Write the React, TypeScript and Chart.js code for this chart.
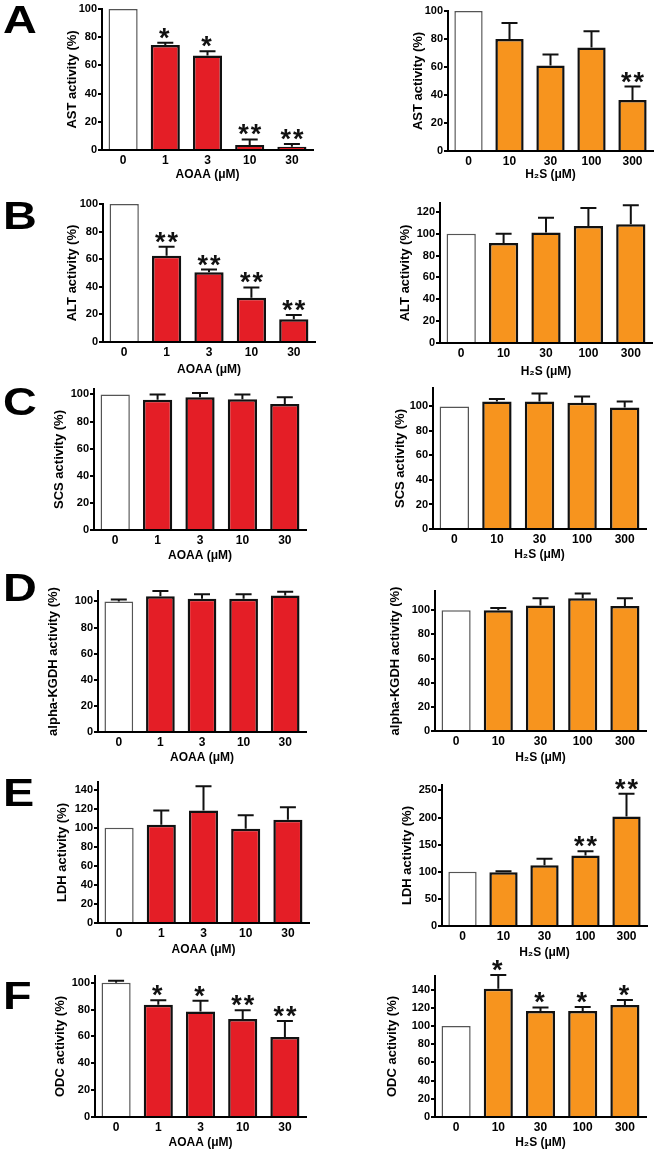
import React, { useEffect, useRef } from 'react';
import { Chart, registerables } from 'chart.js';

Chart.register(...registerables);

const FONT = "'Liberation Sans', Arial, Helvetica, sans-serif";

// ---------- data ----------
const aoaaDoses = ['0', '1', '3', '10', '30'];
const h2sDoses = ['0', '10', '30', '100', '300'];

const astAoaa = [100, 74.5, 67, 3.5, 2.3];
const astAoaaErr = [0, 1.5, 3, 4, 2];
const astAoaaSig = ['', '*', '*', '**', '**'];
const astH2s = [100, 80, 61, 74, 36.5];
const astH2sErr = [0, 11.5, 8, 11.5, 9.5];
const astH2sSig = ['', '', '', '', '**'];

const altAoaa = [100, 62.5, 50.5, 32, 16.5];
const altAoaaErr = [0, 6.5, 2, 7.5, 3];
const altAoaaSig = ['', '**', '**', '**', '**'];
const altH2s = [100, 91.5, 101, 107, 108.5];
const altH2sErr = [0, 8.5, 13.5, 16.5, 17.5];
const altH2sSig = ['', '', '', '', ''];

const scsAoaa = [100, 96, 98, 96.5, 93];
const scsAoaaErr = [0, 4, 3, 3.5, 5];
const scsAoaaSig = ['', '', '', '', ''];
const scsH2s = [100, 104, 104, 103, 99];
const scsH2sErr = [0, 2, 6.5, 5, 5];
const scsH2sSig = ['', '', '', '', ''];

const kgdhAoaa = [100, 104, 102, 102, 104.5];
const kgdhAoaaErr = [1.5, 4, 3.5, 3.5, 3];
const kgdhAoaaSig = ['', '', '', '', ''];
const kgdhH2s = [100, 100, 104, 110, 103.5];
const kgdhH2sErr = [0, 2, 6, 4, 6.5];
const kgdhH2sSig = ['', '', '', '', ''];

const ldhAoaa = [100, 103, 118, 99, 108.5];
const ldhAoaaErr = [0, 15, 25.5, 14, 13];
const ldhAoaaSig = ['', '', '', '', ''];
const ldhH2s = [100, 99, 112, 130, 202];
const ldhH2sErr = [0, 2, 12, 8, 42];
const ldhH2sSig = ['', '', '', '**', '**'];

const odcAoaa = [100, 83.5, 78.5, 73, 59.5];
const odcAoaaErr = [1.5, 3.5, 8, 6.5, 12];
const odcAoaaSig = ['', '*', '*', '**', '**'];
const odcH2s = [100, 141, 116.5, 116.5, 123];
const odcH2sErr = [0, 15, 4, 4.5, 5.5];
const odcH2sSig = ['', '*', '*', '*', '*'];

const RED = '#E41E26';
const ORANGE = '#F7941E';

type Box = { axisX: number; topY: number; zeroY: number; endX: number; yTitleX: number; xTitleY: number; rowTop: number; col: number };

type PanelCfg = {
  labels: string[];
  values: number[];
  errors: number[];
  sig: string[];
  color: string;
  yTitle: string;
  xTitle: string;
  yMax: number;
  yStep: number;
  box: Box;
};

const panels: PanelCfg[] = [
  { labels: aoaaDoses, values: astAoaa, errors: astAoaaErr, sig: astAoaaSig, color: RED, yTitle: 'AST activity (%)', xTitle: 'AOAA (μM)', yMax: 100, yStep: 20,
    box: { axisX: 102, topY: 9, zeroY: 150, endX: 313, yTitleX: 72, xTitleY: 175, rowTop: 0, col: 0 } },
  { labels: h2sDoses, values: astH2s, errors: astH2sErr, sig: astH2sSig, color: ORANGE, yTitle: 'AST activity (%)', xTitle: 'H₂S (μM)', yMax: 100, yStep: 20,
    box: { axisX: 448, topY: 11, zeroY: 151, endX: 653, yTitleX: 418, xTitleY: 175, rowTop: 0, col: 1 } },
  { labels: aoaaDoses, values: altAoaa, errors: altAoaaErr, sig: altAoaaSig, color: RED, yTitle: 'ALT activity (%)', xTitle: 'AOAA (μM)', yMax: 100, yStep: 20,
    box: { axisX: 103, topY: 204, zeroY: 342, endX: 315, yTitleX: 72, xTitleY: 370, rowTop: 190, col: 0 } },
  { labels: h2sDoses, values: altH2s, errors: altH2sErr, sig: altH2sSig, color: ORANGE, yTitle: 'ALT activity (%)', xTitle: 'H₂S (μM)', yMax: 128, yStep: 20,
    box: { axisX: 440, topY: 203, zeroY: 343, endX: 652, yTitleX: 405, xTitleY: 372, rowTop: 190, col: 1 } },
  { labels: aoaaDoses, values: scsAoaa, errors: scsAoaaErr, sig: scsAoaaSig, color: RED, yTitle: 'SCS activity (%)', xTitle: 'AOAA (μM)', yMax: 104, yStep: 20,
    box: { axisX: 94, topY: 389, zeroY: 530, endX: 306, yTitleX: 59, xTitleY: 556, rowTop: 380, col: 0 } },
  { labels: h2sDoses, values: scsH2s, errors: scsH2sErr, sig: scsH2sSig, color: ORANGE, yTitle: 'SCS activity (%)', xTitle: 'H₂S (μM)', yMax: 115, yStep: 20,
    box: { axisX: 433, topY: 388, zeroY: 529, endX: 646, yTitleX: 400, xTitleY: 555, rowTop: 380, col: 1 } },
  { labels: aoaaDoses, values: kgdhAoaa, errors: kgdhAoaaErr, sig: kgdhAoaaSig, color: RED, yTitle: 'alpha-KGDH activity (%)', xTitle: 'AOAA (μM)', yMax: 108, yStep: 20,
    box: { axisX: 98, topY: 591, zeroY: 732, endX: 306, yTitleX: 53, xTitleY: 758, rowTop: 570, col: 0 } },
  { labels: h2sDoses, values: kgdhH2s, errors: kgdhH2sErr, sig: kgdhH2sSig, color: ORANGE, yTitle: 'alpha-KGDH activity (%)', xTitle: 'H₂S (μM)', yMax: 116, yStep: 20,
    box: { axisX: 435, topY: 591, zeroY: 731, endX: 646, yTitleX: 395, xTitleY: 758, rowTop: 570, col: 1 } },
  { labels: aoaaDoses, values: ldhAoaa, errors: ldhAoaaErr, sig: ldhAoaaSig, color: RED, yTitle: 'LDH activity (%)', xTitle: 'AOAA (μM)', yMax: 148, yStep: 20,
    box: { axisX: 98, topY: 782, zeroY: 923, endX: 309, yTitleX: 62, xTitleY: 950, rowTop: 760, col: 0 } },
  { labels: h2sDoses, values: ldhH2s, errors: ldhH2sErr, sig: ldhH2sSig, color: ORANGE, yTitle: 'LDH activity (%)', xTitle: 'H₂S (μM)', yMax: 260, yStep: 50,
    box: { axisX: 442, topY: 785, zeroY: 926, endX: 647, yTitleX: 407, xTitleY: 953, rowTop: 760, col: 1 } },
  { labels: aoaaDoses, values: odcAoaa, errors: odcAoaaErr, sig: odcAoaaSig, color: RED, yTitle: 'ODC activity (%)', xTitle: 'AOAA (μM)', yMax: 105, yStep: 20,
    box: { axisX: 95, topY: 976, zeroY: 1117, endX: 306, yTitleX: 60, xTitleY: 1143, rowTop: 950, col: 0 } },
  { labels: h2sDoses, values: odcH2s, errors: odcH2sErr, sig: odcH2sSig, color: ORANGE, yTitle: 'ODC activity (%)', xTitle: 'H₂S (μM)', yMax: 155, yStep: 20,
    box: { axisX: 435, topY: 976, zeroY: 1117, endX: 646, yTitleX: 392, xTitleY: 1143, rowTop: 950, col: 1 } },
];

const panelLetters = [
  { text: 'A', top: 5 },
  { text: 'B', top: 201 },
  { text: 'C', top: 387 },
  { text: 'D', top: 573 },
  { text: 'E', top: 778 },
  { text: 'F', top: 981 },
];

const CANVAS_H = 200;
const COL_X = [0, 330];
const COL_W = [330, 331];

function Panel({ cfg }: { cfg: PanelCfg }) {
  const ref = useRef<HTMLCanvasElement | null>(null);
  const b = cfg.box;
  const colX = COL_X[b.col];
  const colW = COL_W[b.col];

  useEffect(() => {
    if (!ref.current) return;
    const yLine = 13 * 1.2;
    const xLine = 12 * 1.2;
    const xTitlePad = Math.max(0, CANVAS_H - (b.xTitleY - b.rowTop) - xLine / 2);
    const errPlugin = {
      id: 'errbars',
      afterDatasetsDraw(chart: any) {
        const ctx = chart.ctx;
        const meta = chart.getDatasetMeta(0);
        const yScale = chart.scales.y;
        ctx.save();
        meta.data.forEach((el: any, i: number) => {
          const v = cfg.values[i];
          const e = cfg.errors[i];
          const x = el.x;
          const yBar = yScale.getPixelForValue(v);
          const yTop = yScale.getPixelForValue(v + e);
          if (e > 0) {
            ctx.strokeStyle = '#111';
            ctx.lineWidth = 2;
            ctx.beginPath();
            ctx.moveTo(x, yBar);
            ctx.lineTo(x, yTop);
            ctx.moveTo(x - 8, yTop);
            ctx.lineTo(x + 8, yTop);
            ctx.stroke();
          }
          const s = cfg.sig[i];
          if (s) {
            ctx.fillStyle = '#111';
            ctx.font = `bold 27px ${FONT}`;
            ctx.textAlign = 'center';
            ctx.textBaseline = 'alphabetic';
            (ctx as any).letterSpacing = '2px';
            ctx.fillText(s, x + (s.length > 1 ? 1 : 0), yTop + 4);
            (ctx as any).letterSpacing = '0px';
          }
        });
        ctx.restore();
      },
    };

    const chart = new Chart(ref.current, {
      type: 'bar',
      data: {
        labels: cfg.labels,
        datasets: [
          {
            data: cfg.values,
            backgroundColor: cfg.values.map((_, i) => (i === 0 ? '#ffffff' : cfg.color)),
            borderColor: cfg.values.map((_, i) => (i === 0 ? '#555555' : '#111111')),
            borderWidth: cfg.values.map((_, i) => (i === 0 ? 1.5 : 2.5)) as any,
            barPercentage: 0.69,
            categoryPercentage: 1,
          },
        ],
      },
      options: {
        responsive: false,
        animation: false,
        events: [],
        layout: {
          padding: { left: 0, top: b.topY - b.rowTop, right: colX + colW - b.endX, bottom: 0 },
        },
        plugins: { legend: { display: false }, tooltip: { enabled: false } },
        scales: {
          x: {
            grid: { display: false, drawTicks: false },
            border: { display: true, color: '#000', width: 2 },
            ticks: { color: '#000', font: { size: 12, weight: 'bold', family: FONT }, padding: 3 },
            title: {
              display: true,
              text: cfg.xTitle,
              color: '#000',
              font: { size: 12, weight: 'bold', family: FONT },
              padding: { top: 0, bottom: xTitlePad },
            },
            afterFit: (s: any) => {
              s.height = CANVAS_H - (b.zeroY - b.rowTop);
            },
          },
          y: {
            min: 0,
            max: cfg.yMax,
            ticks: {
              stepSize: cfg.yStep,
              includeBounds: false,
              color: '#000',
              font: { size: 11, weight: 'bold', family: FONT },
              padding: 1,
            },
            grid: { display: true, drawOnChartArea: false, drawTicks: true, tickLength: 4, color: '#000', lineWidth: 2 },
            border: { display: true, color: '#000', width: 2 },
            title: {
              display: true,
              text: cfg.yTitle,
              color: '#000',
              font: { size: 13, weight: 'bold', family: FONT },
              padding: { top: b.yTitleX - colX - yLine / 2, bottom: 0 },
            },
            afterFit: (s: any) => {
              s.width = b.axisX - colX;
            },
          },
        },
      } as any,
      plugins: [errPlugin],
    });
    return () => chart.destroy();
  }, [cfg]);

  return (
    <canvas
      ref={ref}
      width={colW}
      height={CANVAS_H}
      style={{ position: 'absolute', left: colX, top: b.rowTop, width: colW, height: CANVAS_H }}
    />
  );
}

export default function App() {
  return (
    <div style={{ position: 'absolute', left: 0, top: 0, width: 661, height: 1150, background: '#fff', overflow: 'hidden' }}>
      {panels.map((p, i) => (
        <Panel key={i} cfg={p} />
      ))}
      {panelLetters.map((l) => (
        <div
          key={l.text}
          style={{
            position: 'absolute',
            left: 3,
            top: l.top - 5,
            fontFamily: FONT,
            fontWeight: 'bold',
            fontSize: 39,
            lineHeight: 1,
            color: '#000',
            transform: 'scaleX(1.2)',
            transformOrigin: 'left top',
          }}
        >
          {l.text}
        </div>
      ))}
    </div>
  );
}
